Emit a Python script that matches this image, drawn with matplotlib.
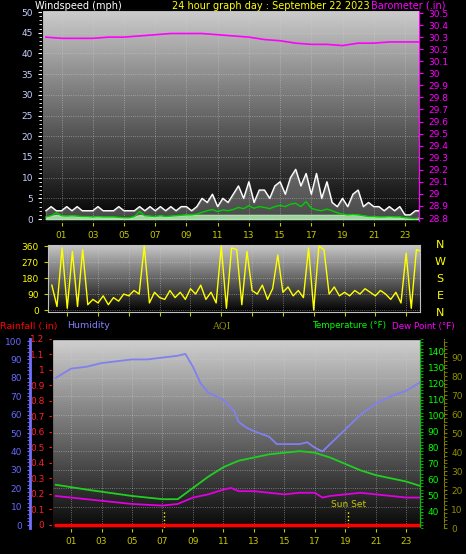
import numpy as np
import matplotlib
matplotlib.use("Agg")
import matplotlib.pyplot as plt
from matplotlib.ticker import AutoMinorLocator

W, H = 466, 554
# ---------------- data ----------------
hour_ticks = [1, 3, 5, 7, 9, 11, 13, 15, 17, 19, 21, 23]
hour_labels = ["01", "03", "05", "07", "09", "11", "13", "15", "17", "19", "21", "23"]

baro_hours = list(range(25))
baro_vals = [30.30, 30.29, 30.29, 30.29, 30.30, 30.30, 30.31, 30.32, 30.33, 30.33, 30.33, 30.32,
             30.31, 30.30, 30.28, 30.27, 30.25, 30.24, 30.24, 30.23, 30.25, 30.25, 30.26, 30.26, 30.26]

gust_vals = [2, 3, 2, 2, 3, 2, 3, 2, 2, 2, 3, 2, 2, 2, 3, 2, 2, 2, 3, 2, 3, 2, 3, 2,
             3, 2, 3, 3, 2, 3, 5, 4, 6, 3, 5, 4, 6, 8, 5, 9, 4, 7, 7, 5, 8, 9, 6, 10,
             12, 8, 11, 6, 11, 5, 9, 4, 3, 5, 3, 6, 7, 3, 4, 3, 3, 2, 3, 2, 3, 1, 1, 2, 2]
avg_vals = [0.5, 0.8, 1.5, 0.8, 0.7, 0.8, 0.7, 0.6, 0.6, 0.5, 0.6, 0.5, 0.5, 0.5, 0.4, 0.3, 0.3, 0.6,
            1.8, 0.8, 0.7, 0.6, 0.8, 0.6, 0.7, 0.8, 0.9, 1.0, 1.0, 1.2, 1.6, 2.0, 2.3, 1.8, 2.2, 2.0,
            2.3, 2.8, 2.5, 3.2, 2.6, 3.0, 2.8, 2.5, 3.0, 3.3, 3.0, 3.6, 3.8, 3.0, 4.2, 2.6, 2.2, 2.0,
            2.4, 2.0, 1.5, 1.2, 1.0, 1.1, 1.0, 0.8, 0.6, 0.6, 0.5, 0.5, 0.6, 0.5, 0.5, 0.3, 0.2, 0.1, 0.4]

dir_vals = [140, 20, 350, 10, 330, 20, 340, 30, 60, 40, 80, 30, 70, 50, 90, 80, 110, 90,
            360, 40, 100, 70, 60, 110, 70, 100, 60, 120, 90, 140, 60, 100, 40, 360, 10, 350,
            340, 30, 330, 110, 90, 140, 60, 120, 310, 100, 130, 80, 110, 70, 350, 0, 360, 340,
            90, 130, 80, 100, 80, 110, 90, 120, 100, 80, 110, 90, 60, 100, 40, 320, 10, 340, 330]

hum_hours = [0, 1, 2, 3, 4, 5, 6, 7, 8, 8.5, 9, 9.5, 10, 11, 11.7, 12, 12.5, 13, 14, 14.5,
             15, 16, 16.5, 17, 17.5, 18, 19, 20, 21, 22, 23, 24]
hum_vals = [80, 85, 86, 88, 89, 90, 90, 91, 92, 93, 86, 77, 72, 68, 62, 56, 53, 51, 48, 44,
            44, 44, 45, 42, 40, 44, 52, 60, 66, 70, 73, 78]

temp_hours = [0, 2, 5, 7, 8, 9, 10, 11, 12, 13, 14, 15, 16, 17, 18, 19, 20, 21, 22, 23, 24]
temp_vals = [57, 54, 50, 48, 48, 55, 62, 68, 72, 74, 76, 77, 78, 77, 74, 70, 66, 63, 61, 59, 56]
dew_hours = [0, 3, 5, 7, 8, 9, 10, 11, 11.5, 12, 13, 14, 15, 16, 17, 17.5, 18, 19, 20, 21, 22, 23, 24]
dew_vals = [50, 47, 45, 44, 45, 49, 51, 54, 55, 53, 53, 52, 51, 52, 52, 49, 50, 51, 52, 51, 50, 49, 49]

rain_hours = [0, 24]
rain_vals = [0, 0]
sun_events = [7.1, 19.2]

# ---------------- helpers ----------------
fig = plt.figure(figsize=(W / 100, H / 100), dpi=100, facecolor="black")
XL = (-0.25, 23.9)
FS = 6.5


def pax(x0, y0, x1, y1):
    return fig.add_axes([x0 / W, 1 - y1 / H, (x1 - x0) / W, (y1 - y0) / H])


def style(ax, top, bot):
    ax.set_facecolor("black")
    grad = np.linspace(1, 0, 256).reshape(-1, 1)
    cm = matplotlib.colors.LinearSegmentedColormap.from_list("g", [bot, top])
    ax.imshow(grad, extent=[0, 1, 0, 1], transform=ax.transAxes, aspect="auto",
              cmap=cm, zorder=0, vmin=0, vmax=1)
    ax.set_xlim(*XL)
    ax.set_xticks(hour_ticks)
    ax.set_xticklabels(hour_labels)
    ax.tick_params(axis="x", colors="#c8c800", labelsize=FS, length=3)
    ax.grid(True, color="#d0d0d0", linestyle=":", linewidth=0.6, alpha=0.6)
    ax.set_axisbelow(False)
    for s in ax.spines.values():
        s.set_color("#c0c0c0")


# ---------------- top panel ----------------
ax1 = pax(42, 10, 419, 222)
style(ax1, "#cccccc", "#000000")
ax1.set_ylim(-0.72, 50.5)
ax1.set_yticks(range(0, 51, 5))
ax1.yaxis.set_minor_locator(AutoMinorLocator(5))
ax1.tick_params(axis="y", which="both", colors="white", labelcolor="#c8d0ff", labelsize=FS, length=3)
ax1.tick_params(axis="y", which="minor", length=2)
xw = np.arange(len(gust_vals)) / 3
ax1.fill_between(xw, 0, gust_vals, color="#d0d0d0", alpha=0.35, zorder=2)
ax1.plot(xw, gust_vals, color="white", lw=1.0, zorder=3)
ax1.fill_between(xw, 0, [min(v, 1.0) for v in avg_vals], color="#b8f0b8", alpha=0.8, zorder=3)
ax1.plot(xw, avg_vals, color="#00d000", lw=1.0, zorder=4)
axb = ax1.twinx()
axb.set_ylim(28.767, 30.525)
axb.set_yticks(np.round(np.arange(28.8, 30.51, 0.1), 1))
axb.set_yticklabels([("%g" % v) for v in np.round(np.arange(28.8, 30.51, 0.1), 1)])
axb.tick_params(axis="y", colors="#ff00ff", labelsize=FS, length=3)
axb.spines["right"].set_color("#ff00ff")
axb.plot(baro_hours, baro_vals, color="#ff00ff", lw=1.2)
axb.set_xlim(*XL)
fig.text(35 / W, 1 - 6 / H, "Windspeed (mph)", color="white", fontsize=7, va="center")
fig.text(172 / W, 1 - 6 / H, "24 hour graph day : September 22 2023", color="#ffff00", fontsize=7, va="center")
fig.text(371 / W, 1 - 6 / H, "Barometer (.in)", color="#ff00ff", fontsize=7, va="center")

# ---------------- middle panel ----------------
ax2 = pax(48, 245, 420, 312)
style(ax2, "#c8c8c8", "#000000")
ax2.set_ylim(-11, 366)
ax2.set_yticks([0, 90, 180, 270, 360])
ax2.tick_params(axis="y", colors="#c8c800", labelcolor="#ffff00", labelsize=FS, length=3)
ax2.tick_params(axis="x", labelbottom=False)
ax2.plot(np.arange(len(dir_vals)) / 3, dir_vals, color="#ffff00", lw=1.0, zorder=3)
for i, l in enumerate(["N", "W", "S", "E", "N"]):
    fig.text(440 / W, 1 - (245 + i * 17) / H, l, color="#ffff00", fontsize=8, va="center", ha="center")

# ---------------- bottom panel ----------------
ax3 = pax(52, 339, 420, 528)
style(ax3, "#d0d0d0", "#080808")
ax3.set_ylim(-1.6, 101.1)
ax3.set_yticks(range(0, 101, 10))
ax3.yaxis.set_minor_locator(AutoMinorLocator(5))
ax3.spines["left"].set_position(("outward", 16))
ax3.spines["left"].set_color("#7070ff")
ax3.spines["left"].set_linewidth(2)
ax3.tick_params(axis="y", which="both", colors="#7070ff", labelcolor="#6868ff", labelsize=FS, length=2)
ax3.plot(hum_hours, hum_vals, color="#8080f0", lw=1.3, zorder=4)

axr = ax3.twinx()
axr.yaxis.tick_left()
axr.spines["left"].set_visible(True)
axr.spines["left"].set_color("#ff3030")
axr.spines["left"].set_linestyle(":")
axr.spines["right"].set_visible(False)
axr.set_ylim(-0.02, 1.2)
axr.set_yticks(np.round(np.arange(0, 1.21, 0.1), 1))
axr.set_yticklabels([("%g" % v) for v in np.round(np.arange(0, 1.21, 0.1), 1)])
axr.tick_params(axis="y", colors="#ff2020", labelsize=FS, length=2)
axr.plot(rain_hours, rain_vals, color="#ff0000", lw=2.5, zorder=5)
axr.set_xlim(*XL)

axt = ax3.twinx()
axt.set_ylim(30, 148)
axt.set_yticks(range(40, 141, 10))
axt.yaxis.set_minor_locator(AutoMinorLocator(5))
axt.spines["right"].set_color("#00c000")
axt.tick_params(axis="y", which="both", colors="#00c000", labelcolor="#00ff00", labelsize=FS, length=2)
axt.plot(temp_hours, temp_vals, color="#20d020", lw=1.3)
axt.plot(dew_hours, dew_vals, color="#e000e0", lw=1.3)
axt.set_xlim(*XL)

axq = ax3.twinx()
axq.set_ylim(0, 99.5)
axq.set_yticks(range(0, 91, 10))
axq.yaxis.set_minor_locator(AutoMinorLocator(5))
axq.spines["right"].set_position(("outward", 17))
axq.spines["right"].set_color("#808000")
axq.spines["right"].set_linestyle("--")
axq.tick_params(axis="y", which="both", colors="#808000", labelcolor="#909000", labelsize=FS, length=2)
axq.set_xlim(*XL)

for h in sun_events:
    ax3.plot([h, h], [-1.6, 8], color="#ffff00", lw=1, linestyle=":", zorder=5)
ax3.text(sun_events[1], 11, "Sun Set", color="#c8c800", fontsize=6.5, ha="center", va="center", zorder=6)

fig.text(0, 1 - 326 / H, "Rainfall (.in)", color="#ff0000", fontsize=6.8, va="center")
fig.text(67 / W, 1 - 326 / H, "Humidity", color="#8080ff", fontsize=6.8, va="center")
fig.text(212 / W, 1 - 326 / H, "AQI", color="#909000", fontsize=6.8, va="center", family="DejaVu Serif")
fig.text(312 / W, 1 - 326 / H, "Temperature (°F)", color="#00ff00", fontsize=6.3, va="center")
fig.text(392 / W, 1 - 326 / H, "Dew Point (°F)", color="#ff00ff", fontsize=6.3, va="center")

fig.savefig("out.png", dpi=100, facecolor="black")
